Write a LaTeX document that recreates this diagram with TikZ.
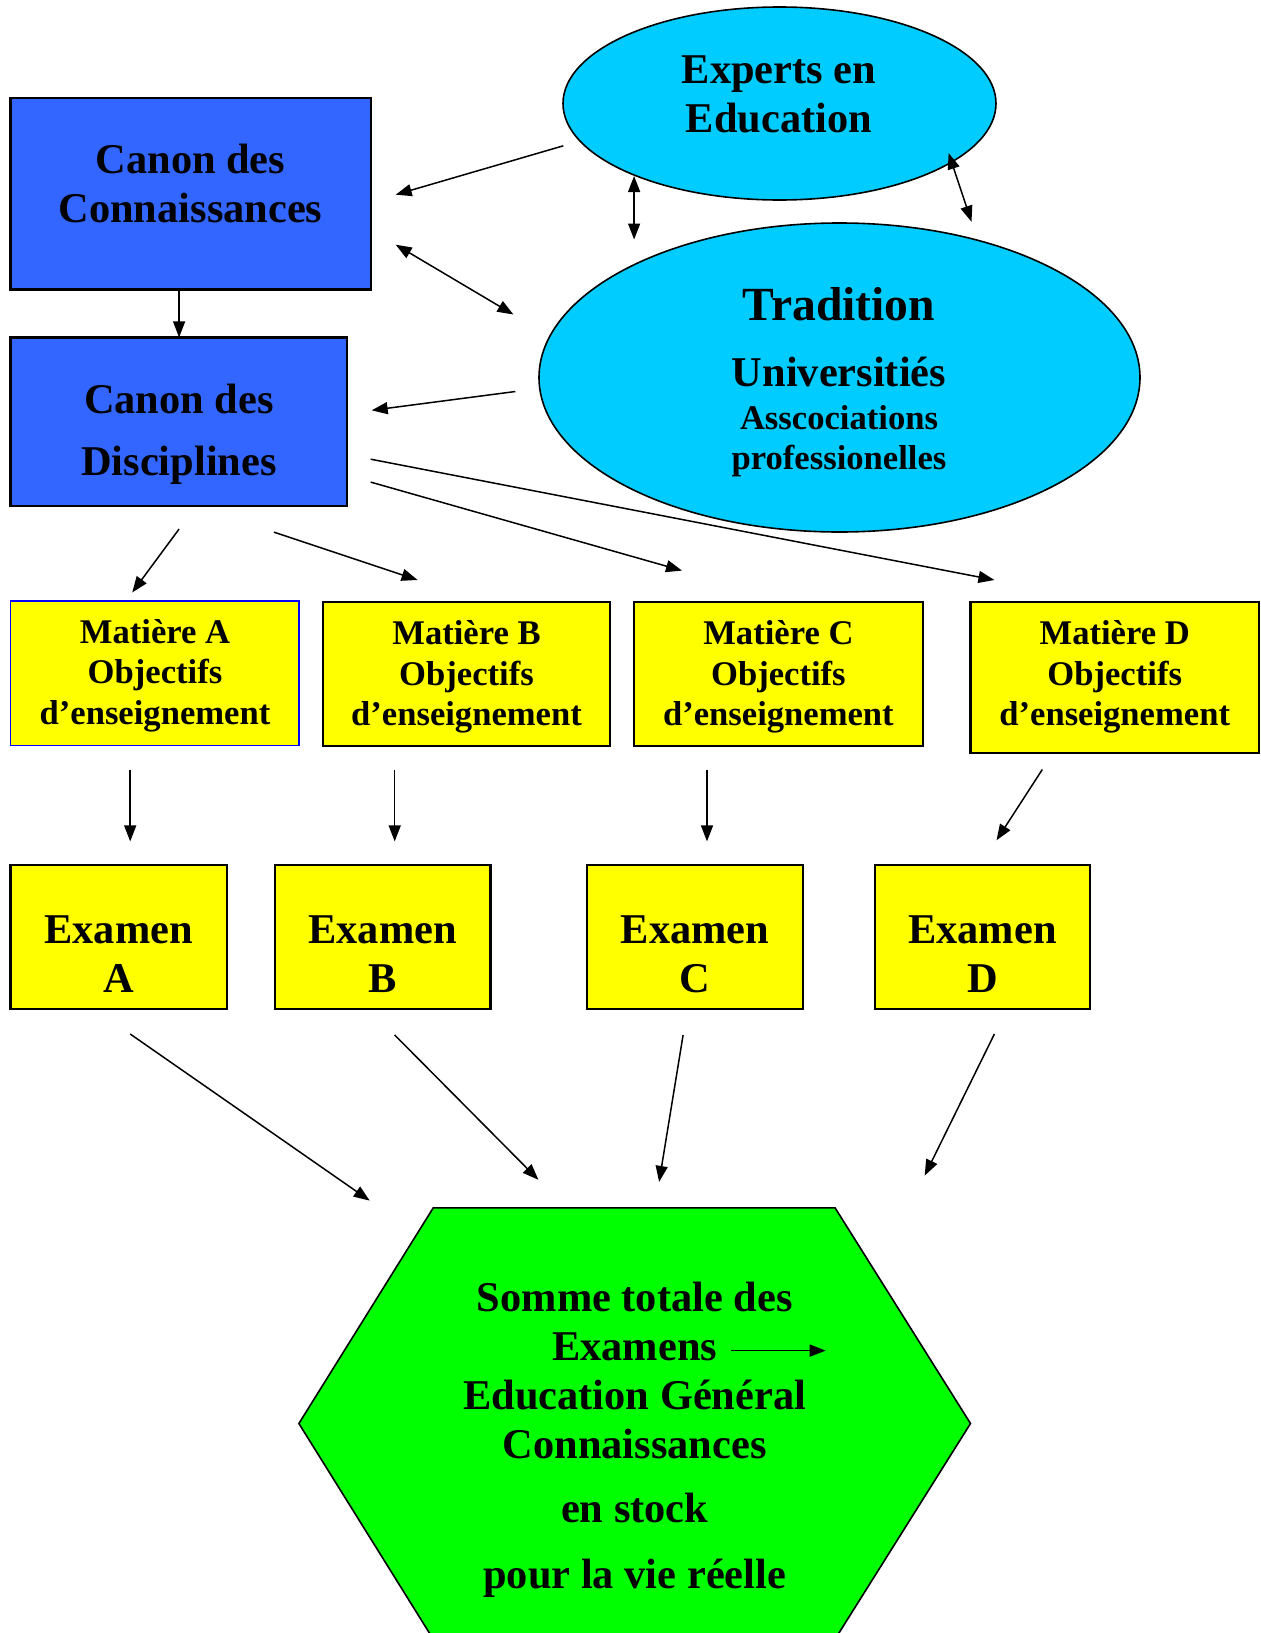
\documentclass[tikz,border=0pt]{standalone}
\usepackage{fontspec}
\setmainfont{Liberation Serif}
\usetikzlibrary{arrows.meta,shapes.geometric}
\definecolor{boxblue}{HTML}{3366FF}
\definecolor{ellcyan}{HTML}{00CCFF}
\definecolor{matyellow}{HTML}{FFFF00}
\definecolor{hexgreen}{HTML}{00FF00}
\definecolor{pureblue}{HTML}{0000FF}
\begin{document}
\begin{tikzpicture}[x=0.5pt,y=-0.5pt,
  box/.style={draw=black,line width=1.1pt,anchor=north west,inner sep=0pt,outer sep=0pt},
  canonbox/.style={box,fill=boxblue},
  yelbox/.style={box,fill=matyellow},
  ell/.style={ellipse,draw=black,line width=0.8pt,fill=ellcyan,inner sep=0pt,outer sep=0pt},
  txt/.style={anchor=base,inner sep=0pt,font=\bfseries\fontsize{21.2}{24}\selectfont},
  txtL/.style={anchor=base,inner sep=0pt,font=\bfseries\fontsize{23.8}{27}\selectfont},
  txtS/.style={anchor=base,inner sep=0pt,font=\bfseries\fontsize{17.3}{20}\selectfont},
  arr/.style={-{Triangle[length=8pt,width=6pt]},line width=0.75pt},
  darr/.style={{Triangle[length=8pt,width=6pt]}-{Triangle[length=8pt,width=6pt]},line width=0.75pt}]
\useasboundingbox (0,0) rectangle (1261,1633);
\fill[white] (0,0) rectangle (1261,1633);
% hexagon (cut off at the bottom)
\begin{scope}
\clip (0,0) rectangle (1261,1633);
\draw[fill=hexgreen,line width=0.8pt] (433.2,1207.9) -- (835.1,1207.9) -- (970.5,1423.5) -- (835.1,1639.1) -- (433.2,1639.1) -- (298.9,1423.5) -- cycle;
\end{scope}
% boxes
\node[canonbox,minimum width=180.15pt,minimum height=95.8pt] (cc) at (10.4,97.9) {};
\node[canonbox,minimum width=168.15pt,minimum height=84.3pt] (cd) at (10.4,337.4) {};
\node[ell,minimum width=216.5pt,minimum height=96.5pt] (exp) at (779.5,103.5) {};
\node[ell,minimum width=300.5pt,minimum height=154.5pt] (trad) at (839.5,377.5) {};
\node[yelbox,draw=pureblue,line width=0.8pt,minimum width=144.25pt,minimum height=72.4pt] (ma) at (10.4,600.8) {};
\node[yelbox,minimum width=143.7pt,minimum height=71.85pt] (mb) at (322.8,601.9) {};
\node[yelbox,minimum width=144.25pt,minimum height=71.85pt] (mc) at (634.1,601.9) {};
\node[yelbox,minimum width=144.2pt,minimum height=75.5pt] (md) at (970.5,601.9) {};
\node[yelbox,minimum width=108.3pt,minimum height=71.85pt] (ea) at (10.4,865.3) {};
\node[yelbox,minimum width=107.8pt,minimum height=71.85pt] (eb) at (274.9,865.3) {};
\node[yelbox,minimum width=107.75pt,minimum height=71.85pt] (ec) at (587.3,865.3) {};
\node[yelbox,minimum width=107.75pt,minimum height=71.85pt] (ed) at (874.7,865.3) {};
% texts
\node[txt] (cc1) at (190.5,173.3) {Canon des};
\node[txt] (cc2) at (190.5,222.3) {Connaissances};
\node[txt] (cd1) at (179,413.9) {Canon des};
\node[txt] (cd2) at (179,475.3) {Disciplines};
\node[txt] (ex1) at (779,83.8) {Experts en};
\node[txt] (ex2) at (779,132.7) {Education};
\node[txtL] (tr1) at (839,320.7) {Tradition};
\node[txt] (tr2) at (839,386.8) {Universitiés};
\node[txtS] (tr3) at (839,429) {Asscociations};
\node[txtS] (tr4) at (839,469.6) {professionelles};
\node[txtS] (ma1) at (155,643.5) {Matière A};
\node[txtS] (ma2) at (155,683) {Objectifs};
\node[txtS] (ma3) at (155,724.7) {d’enseignement};
\node[txtS] (mb1) at (466.5,644.5) {Matière B};
\node[txtS] (mb2) at (466.5,685.1) {Objectifs};
\node[txtS] (mb3) at (466.5,725.7) {d’enseignement};
\node[txtS] (mc1) at (778.4,644.5) {Matière C};
\node[txtS] (mc2) at (778.4,685.1) {Objectifs};
\node[txtS] (mc3) at (778.4,725.7) {d’enseignement};
\node[txtS] (md1) at (1114.7,644.5) {Matière D};
\node[txtS] (md2) at (1114.7,685.1) {Objectifs};
\node[txtS] (md3) at (1114.7,725.7) {d’enseignement};
\node[txt] (ea1) at (118.7,943.9) {Examen};
\node[txt] (ea2) at (118.7,992.8) {A};
\node[txt] (eb1) at (382.7,943.9) {Examen};
\node[txt] (eb2) at (382.7,992.8) {B};
\node[txt] (ec1) at (695,943.9) {Examen};
\node[txt] (ec2) at (695,992.8) {C};
\node[txt] (ed1) at (982.5,943.9) {Examen};
\node[txt] (ed2) at (982.5,992.8) {D};
\node[txt] (h1) at (634.7,1311.4) {Somme totale des};
\node[txt] (h2) at (634.7,1360.4) {Examens};
\node[txt] (h3) at (634.7,1409.3) {Education Général};
\node[txt] (h4) at (634.7,1458.3) {Connaissances};
\node[txt] (h5) at (634.7,1522.9) {en stock};
\node[txt] (h6) at (634.7,1588.5) {pour la vie réelle};
% connector end points
\coordinate (p1a) at (563.3,145.8); \coordinate (p1b) at (395.7,194.7);
\coordinate (p2a) at (634.1,176); \coordinate (p2b) at (634.1,239.5);
\coordinate (p3a) at (948.6,153.1); \coordinate (p3b) at (971.5,221.8);
\coordinate (p4a) at (395.7,244.7); \coordinate (p4b) at (513.4,314.5);
\coordinate (p5a) at (179.1,289.5); \coordinate (p5b) at (179.1,337.4);
\coordinate (p6a) at (515.4,391.5); \coordinate (p6b) at (371.7,410.3);
\coordinate (p7a) at (179.1,529); \coordinate (p7b) at (132.2,592.5);
\coordinate (p8a) at (273.9,532.1); \coordinate (p8b) at (417.6,580);
\coordinate (p9a) at (370.7,482.1); \coordinate (p9b) at (682,570.6);
\coordinate (p10a) at (370.7,459.2); \coordinate (p10b) at (994.4,580);
\coordinate (p11a) at (130.2,769.5); \coordinate (p11b) at (130.2,841.4);
\coordinate (p12a) at (394.7,769.5); \coordinate (p12b) at (394.7,841.4);
\coordinate (p13a) at (707,769.5); \coordinate (p13b) at (707,841.4);
\coordinate (p14a) at (1042.3,769.5); \coordinate (p14b) at (996.5,840.3);
\coordinate (p15a) at (130.2,1034); \coordinate (p15b) at (369.7,1200.6);
\coordinate (p16a) at (394.7,1035); \coordinate (p16b) at (538.4,1179.8);
\coordinate (p17a) at (683.1,1035); \coordinate (p17b) at (659.1,1181.9);
\coordinate (p18a) at (994.4,1034); \coordinate (p18b) at (924.7,1175.6);
\coordinate (p19a) at (731,1350.6); \coordinate (p19b) at (825.7,1350.6);
% connectors
\draw[arr] (p1a) -- (p1b);
\draw[darr] (p2a) -- (p2b);
\draw[darr] (p3a) -- (p3b);
\draw[darr] (p4a) -- (p4b);
\draw[arr] (p5a) -- (p5b);
\draw[arr] (p6a) -- (p6b);
\draw[arr] (p7a) -- (p7b);
\draw[arr] (p8a) -- (p8b);
\draw[arr] (p9a) -- (p9b);
\draw[arr] (p10a) -- (p10b);
\draw[arr] (p11a) -- (p11b);
\draw[arr] (p12a) -- (p12b);
\draw[arr] (p13a) -- (p13b);
\draw[arr] (p14a) -- (p14b);
\draw[arr] (p15a) -- (p15b);
\draw[arr] (p16a) -- (p16b);
\draw[arr] (p17a) -- (p17b);
\draw[arr] (p18a) -- (p18b);
\draw[arr] (p19a) -- (p19b);
\end{tikzpicture}
\end{document}
